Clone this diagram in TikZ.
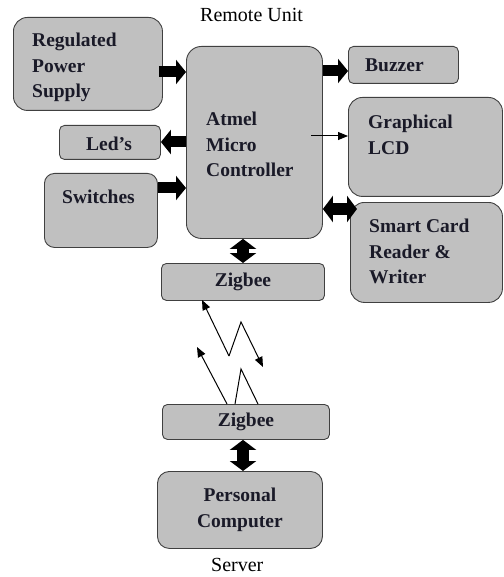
\documentclass[tikz,border=0pt]{standalone}
\usepackage{fontspec}
\setmainfont{Liberation Serif}
\usetikzlibrary{arrows.meta}
\definecolor{boxfill}{HTML}{C0C0C0}
\definecolor{boxline}{HTML}{404040}
\definecolor{ink}{HTML}{1A1A28}

\begin{document}
\begin{tikzpicture}[x=1pt,y=-1pt,
  blk/.style={draw=boxline, fill=boxfill, line width=0.9pt, rounded corners=#1, anchor=north west, inner sep=0pt,
    font=\fontsize{19.5}{25.5}\selectfont\bfseries, text=ink},
  blk/.default=5pt,
  lbl/.style={anchor=north west, inner sep=0pt, align=left, font=\fontsize{19.5}{25.5}\selectfont\bfseries, text=ink},
  fat/.style={line width=11pt, -{Triangle[length=10pt,width=24pt]}},
  fatboth/.style={line width=12pt, {Triangle[length=10pt,width=26pt]}-{Triangle[length=10pt,width=26pt]}},
  thin/.style={line width=1pt, -{Triangle[length=10pt,width=8pt]}}]
\useasboundingbox (0,0) rectangle (503,577);
% remote unit
\node[anchor=north west, inner sep=0pt, font=\fontsize{20}{23}\selectfont] (remote) at (200,8) {Remote Unit};
\node[blk=14pt, minimum width=149pt, minimum height=93pt] (rps) at (13,17) {};
\node[blk, minimum width=101pt, minimum height=34pt] (led) at (59,125) {};
\node[blk=10pt, minimum width=113pt, minimum height=74pt] (sw) at (44,173) {};
\node[blk=15pt, minimum width=136pt, minimum height=192pt] (mcu) at (186,46) {};
\node[blk, minimum width=110pt, minimum height=37pt] (buz) at (348,46) {};
\node[blk=14pt, minimum width=154pt, minimum height=99pt] (lcd) at (348,97) {};
\node[blk=14pt, minimum width=152pt, minimum height=100pt] (scr) at (350,202) {};
\node[blk, minimum width=163pt, minimum height=37pt] (zt) at (161,263) {Zigbee};
% labels
\node[lbl] (rpst) at (32,33) {Regulated\\Power\\Supply};
\node[lbl] (mcut) at (206,112) {Atmel\\Micro\\Controller};
\node[lbl] (ledt) at (86,137) {Led’s};
\node[lbl] (swt) at (62,190) {Switches};
\node[lbl] (buzt) at (365,59) {Buzzer};
\node[lbl] (lcdt) at (368,115) {Graphical\\LCD};
\node[lbl] (scrt) at (369,219) {Smart Card\\Reader \&\\Writer};
% server
\node[blk, minimum width=167pt, minimum height=35pt] (zb) at (162,404) {Zigbee};
\node[blk=12pt, minimum width=165pt, minimum height=77pt, align=center] (pc) at (157,471) {Personal\\Computer};
\node[anchor=north west, inner sep=0pt, font=\fontsize{20}{23}\selectfont] (server) at (211,558) {Server};
% connections
\draw[fat, shorten <=-4pt] (rps.east |- 0,72) -- (mcu.west |- 0,72);
\draw[fat] (mcu.west |- 0,142) -- (led.east |- 0,142);
\draw[fat] (sw.east |- 0,188) -- (mcu.west |- 0,188);
\draw[fat] (mcu.east |- 0,71) -- (buz.west |- 0,71);
\coordinate (lcdin) at (311,136);
\draw[thin] (lcdin) -- (lcd.west |- lcdin);
\draw[fatboth, shorten >=-7pt] (mcu.east |- 0,209) -- (scr.west |- 0,209);
\draw[fatboth] (mcu.south -| 243,0) -- (zt.north -| 243,0);
\draw[fatboth] (zb.south -| 243,0) -- (pc.north -| 243,0);
% radio link
\coordinate (ua) at (202,300);
\coordinate (ub) at (229,356);
\coordinate (uc) at (241,322);
\coordinate (ud) at (263,367);
\coordinate (la) at (197,347);
\coordinate (lb) at (227,404);
\coordinate (lc) at (235,404);
\coordinate (ld) at (241,369);
\coordinate (le) at (258,404);
\draw[thin] (ub) -- (ua);
\draw[thin] (ub) -- (uc) -- (ud);
\draw[thin] (lb) -- (la);
\draw[line width=1pt] (lc) -- (ld) -- (le);
\end{tikzpicture}
\end{document}
